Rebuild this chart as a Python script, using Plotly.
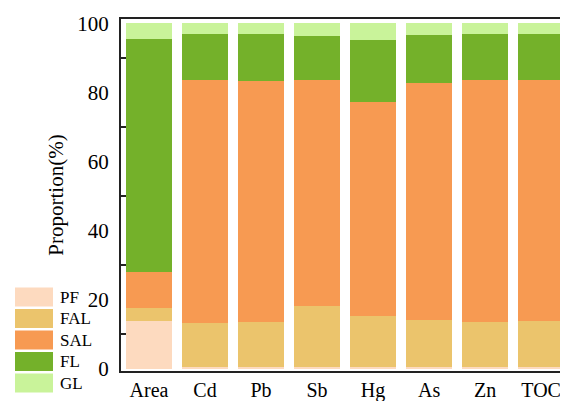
import plotly.graph_objects as go

categories = ["Area", "Cd", "Pb", "Sb", "Hg", "As", "Zn", "TOC"]
series_names = ["PF", "FAL", "SAL", "FL", "GL"]
PF = [13.8, 0.6, 0.6, 0.6, 0.6, 0.6, 0.6, 0.6]
FAL = [3.8, 12.6, 13.1, 17.5, 14.8, 13.6, 13.0, 13.3]
SAL = [10.3, 70.3, 69.5, 65.4, 61.7, 68.5, 69.9, 69.6]
FL = [67.4, 13.3, 13.6, 12.7, 18.0, 13.8, 13.3, 13.3]
GL = [4.7, 3.2, 3.2, 3.8, 4.9, 3.5, 3.2, 3.2]
colors = ["#FDDABF", "#EBC46C", "#F79A52", "#74B12A", "#C9F39A"]
values = [PF, FAL, SAL, FL, GL]
y_ticks = [0, 20, 40, 60, 80, 100]
minor_ticks = [10, 30, 50, 70, 90]

# the page body has an 8px margin; compensate so the chart fills the window
OFF = 8
W, H = 568 - OFF, 401 - OFF
ml, mr, mt, mb = 121 - OFF, 0, 19 - OFF, 30
pw, ph = W - ml - mr, H - mt - mb

fig = go.Figure()
for name, vals, col in zip(series_names, values, colors):
    fig.add_trace(go.Bar(x=categories, y=vals, name=name, marker=dict(color=col, line=dict(width=0)),
                         showlegend=False))

font = "Liberation Serif, Times New Roman, serif"

# custom legend (large swatches), positions in window pixels
shapes = []
annotations = []
centers_px = [297, 318.5, 340, 361.5, 383]
for name, col, cy in zip(series_names, colors, centers_px):
    x0 = (15 - 121) / pw
    x1 = (53 - 121) / pw
    y0 = (371 - (cy + 9.5)) / ph
    y1 = (371 - (cy - 9.5)) / ph
    shapes.append(dict(type="rect", xref="paper", yref="paper", x0=x0, x1=x1, y0=y0, y1=y1,
                       fillcolor=col, line=dict(width=0), layer="above"))
    annotations.append(dict(xref="paper", yref="paper", x=(58 - 121) / pw, y=(371 - cy) / ph,
                            text=name, showarrow=False, xanchor="left", yanchor="middle",
                            font=dict(family=font, size=17, color="black")))

fig.update_layout(
    width=W, height=H,
    margin=dict(l=ml, r=mr, t=mt, b=mb, autoexpand=False),
    barmode="stack", bargap=0.18,
    plot_bgcolor="white", paper_bgcolor="white",
    font=dict(family=font, size=21, color="black"),
    shapes=shapes, annotations=annotations,
    xaxis=dict(range=[-0.5, 7.48], showline=True, linecolor="#222", linewidth=2, mirror=True,
               ticks="", tickfont=dict(size=20), showgrid=False, automargin=False,
               ticklabelstandoff=0),
    yaxis=dict(range=[-0.6, 101.2], tickvals=y_ticks, ticks="", showline=True, linecolor="#222",
               linewidth=2, mirror=False, showgrid=False, zeroline=False, automargin=False,
               tickfont=dict(size=21), ticklabelstandoff=6,
               minor=dict(tickvals=minor_ticks, ticks="inside", ticklen=5, tickcolor="#222", tickwidth=1.5,
                          showgrid=False),
               title=dict(text="Proportion(%)", font=dict(size=21), standoff=8)),
)

fig.write_html("out.html")
